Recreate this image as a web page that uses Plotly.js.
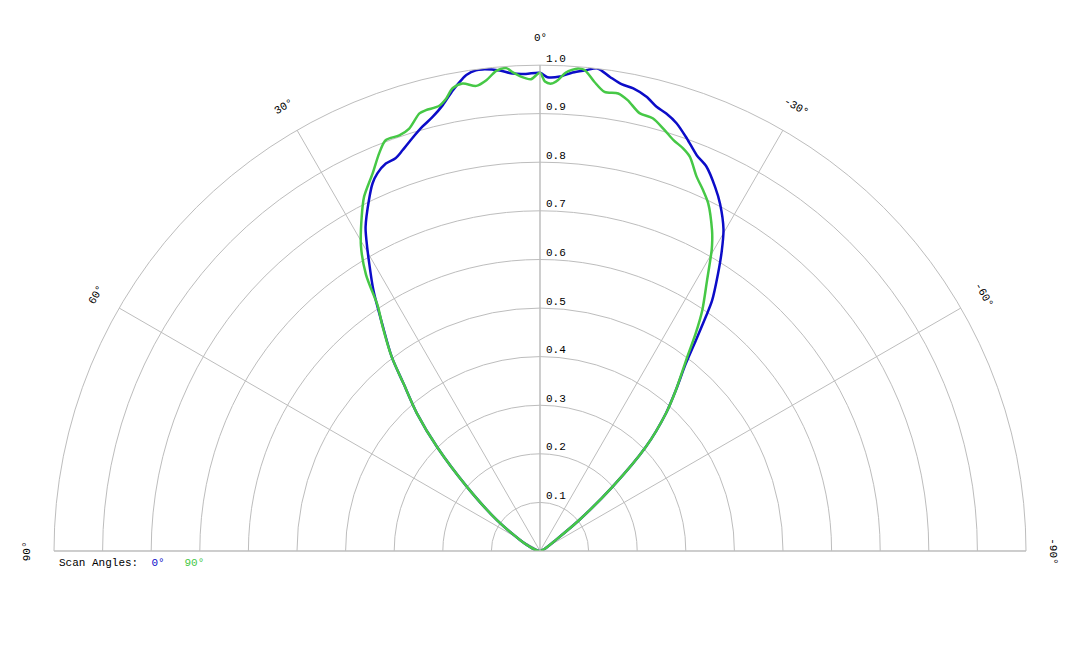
<!DOCTYPE html>
<html>
<head>
<meta charset="utf-8">
<script src="https://cdn.plot.ly/plotly-3.0.1.min.js"></script>
<style>html,body{margin:0;padding:0;background:#fff}</style>
</head>
<body>
<div id="chart" style="width:1080px;height:648px"></div>
<script>
// scan angle 0 deg (blue), theta from +90 to -90
const thetaScan0 = [90, 75, 65, 61, 54.4, 48.7, 44.7, 41.8, 39.2, 37.4, 34.8, 32.6, 30.5, 29.2, 28.3, 26.0, 24.5, 23.3, 21.7, 20.2,
  18.9, 17.2, 15.5, 13.9, 12.3, 10.7, 9.3, 8.8, 7.6, 6.8, 4.8, 3.3, 1.7, 0,
  -0.9, -2.4, -3.9, -5.5, -6.8, -8.4, -9.9, -11.4, -13.2, -14.7, -16.1, -17.7, -19.6, -21.6, -23.4, -25.7,
  -27.4, -29.7, -31.2, -32.7, -34.5, -35.3, -36.5, -37.9, -40.2, -42.5, -45.5, -48.5, -51.7, -55, -65, -90];
const rScan0 = [0, 0.01, 0.03, 0.047, 0.109, 0.200, 0.301, 0.380, 0.444, 0.502, 0.569, 0.636, 0.694, 0.732, 0.757, 0.803, 0.831, 0.846, 0.858, 0.861,
  0.872, 0.889, 0.906, 0.920, 0.939, 0.965, 0.985, 0.991, 0.998, 0.998, 0.992, 0.984, 0.982, 0.984,
  0.975, 0.977, 0.987, 0.994, 1.0, 0.986, 0.975, 0.971, 0.960, 0.945, 0.937, 0.924, 0.901, 0.876, 0.862, 0.831,
  0.805, 0.762, 0.722, 0.678, 0.625, 0.590, 0.539, 0.488, 0.433, 0.383, 0.305, 0.199, 0.103, 0.040, 0.01, 0];

// scan angle 90 deg (green)
const thetaScan90 = [90, 75, 65, 61, 54.4, 48.7, 44.7, 41.8, 39.2, 37.4, 35.0, 33.5, 32.2, 30.4, 28.1, 26.4, 23.9, 22.0, 20.6,
  18.7, 17.2, 15.4, 14.5, 12.8, 11.7, 10.7, 9.4, 7.8, 6.5, 5.2, 4.0, 3.3, 2.3, 1.1, 0,
  -0.6, -1.4, -2.2, -3.1, -4.5, -5.3, -6.6, -8.0, -9.7, -11.0, -12.8, -14.6, -16.5, -18.0, -19.6, -20.8,
  -22.7, -24.3, -25.8, -28.2, -29.0, -29.7, -31.7, -34.0, -35.6, -37.2, -40.2, -42.5, -45.5, -48.5, -51.7, -55, -65, -90];
const rScan90 = [0, 0.01, 0.03, 0.047, 0.109, 0.200, 0.301, 0.380, 0.444, 0.502, 0.565, 0.605, 0.672, 0.728, 0.779, 0.814, 0.850, 0.883, 0.903,
  0.903, 0.910, 0.934, 0.937, 0.939, 0.951, 0.969, 0.975, 0.966, 0.975, 0.992, 0.996, 0.987, 0.977, 0.971, 0.984,
  0.966, 0.962, 0.970, 0.986, 0.996, 0.994, 0.972, 0.954, 0.955, 0.945, 0.924, 0.920, 0.903, 0.889, 0.879, 0.868,
  0.835, 0.815, 0.795, 0.749, 0.731, 0.713, 0.654, 0.597, 0.550, 0.501, 0.433, 0.383, 0.305, 0.199, 0.103, 0.040, 0.01, 0];

const radialTicks = [0.1, 0.2, 0.3, 0.4, 0.5, 0.6, 0.7, 0.8, 0.9, 1.0];
const radialLabels = ['0.1', '0.2', '0.3', '0.4', '0.5', '0.6', '0.7', '0.8', '0.9', '1.0'];
const angleTicks = [90, 60, 30, 0, -30, -60, -90];
const angleLabels = ['90°', '60°', '30°', '0°', '-30°', '-60°', '-90°'];

const blue = '#0c0cc8';
const green = '#46c846';
const grid = '#bdbdbd';
const mono = 'Liberation Mono, DejaVu Sans Mono, monospace';
const labelFont = {family: mono, size: 11, color: '#000'};

var traces = [
  {type: 'scatterpolar', mode: 'lines', theta: thetaScan0, r: rScan0, name: '0°',
   line: {color: blue, width: 2.5, shape: 'spline', smoothing: 0.8}, hoverinfo: 'none'},
  {type: 'scatterpolar', mode: 'lines', theta: thetaScan90, r: rScan90, name: '90°',
   line: {color: green, width: 2.5, shape: 'spline', smoothing: 0.8}, hoverinfo: 'none'}
];

// angular labels are drawn turned along the arc, so they go in as annotations
// (polar area fills the plot area exactly: paper x = 0.5 - r*sin/2, paper y = r*cos)
var annotations = angleTicks.map(function (t, i) {
  var a = t * Math.PI / 180;
  return {
    xref: 'paper', yref: 'paper',
    x: 0.5 - 1.055 * Math.sin(a) / 2, y: 1.055 * Math.cos(a),
    text: angleLabels[i], showarrow: false, textangle: -t,
    xanchor: 'center', yanchor: 'middle', font: labelFont
  };
});
// radial labels sit just right of the 0° spoke, a little above each ring
radialTicks.forEach(function (v, i) {
  annotations.push({
    xref: 'paper', yref: 'paper', x: 0.5045, y: v + 0.013,
    text: radialLabels[i], showarrow: false,
    xanchor: 'left', yanchor: 'middle', font: labelFont
  });
});
annotations.push({
  xref: 'paper', yref: 'paper', x: 0.003, y: -0.024, xanchor: 'left', yanchor: 'middle', showarrow: false,
  text: 'Scan Angles:  <span style="color:' + blue + '">0°</span>   <span style="color:' + green + '">90°</span>',
  font: labelFont
});

var layout = {
  width: 1080, height: 648,
  margin: {l: 54, r: 54, t: 65, b: 97},
  paper_bgcolor: 'white',
  showlegend: false,
  polar: {
    domain: {x: [0, 1], y: [0, 1]},
    sector: [0, 180],
    bgcolor: 'white',
    angularaxis: {
      rotation: 90, direction: 'counterclockwise',
      tickmode: 'array', tickvals: angleTicks, showticklabels: false, ticks: '',
      showline: true, linecolor: grid, linewidth: 1, gridcolor: grid, gridwidth: 1
    },
    radialaxis: {
      range: [0, 1], angle: 90,
      tickmode: 'array', tickvals: radialTicks, showticklabels: false, ticks: '',
      showline: true, linecolor: grid, gridcolor: grid, gridwidth: 1
    }
  },
  annotations: annotations
};

Plotly.newPlot('chart', traces, layout, {displayModeBar: false, staticPlot: true});
</script>
</body>
</html>
